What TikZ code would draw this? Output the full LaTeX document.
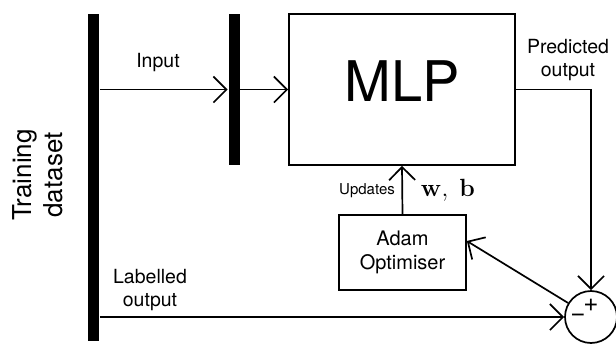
\documentclass[tikz,border=0pt]{standalone}
\usepackage[no-math]{fontspec}
\setmainfont{TeX Gyre Heros}
\usetikzlibrary{arrows.meta,calc}
\begin{document}
\begin{tikzpicture}[x=1pt,y=-1pt,
  line width=1.7pt,
  arr/.style={-{Straight Barb[length=13pt,width=26pt]}},
  bar/.style={fill=black,draw=none,inner sep=0pt,minimum width=11pt},
  blk/.style={draw,inner sep=0pt},
  lbl/.style={font=\fontsize{19.5}{23}\selectfont,align=center,inner sep=0pt},
]
\useasboundingbox (0,0) rectangle (616,343);

% data source and input buffer bars
\node[bar,minimum height=327pt] (data) at (93.5,177.5) {};
\node[bar,minimum height=151pt] (inbar) at (234,89.5) {};

% network and optimiser blocks
\node[blk,minimum width=226pt,minimum height=151pt,
      font=\fontsize{56}{60}\selectfont,text depth=16pt] (mlp) at (402,89.5) {MLP};
\node[blk,minimum width=127pt,minimum height=75pt,
      font=\fontsize{20}{24}\selectfont,align=center] (adam) at (402.5,252.5) {Adam\\Optimiser};

% comparison junction
\node[draw,circle,minimum size=52pt,inner sep=0pt] (sum) at (591,317) {};
\node[font=\fontsize{26}{26}\selectfont,inner sep=0pt] (plus) at (591,305) {+};
\node[font=\fontsize{26}{26}\selectfont,inner sep=0pt] (minus) at (578,318) {−};

% signal flow
\draw[arr] (data.east |- mlp.west) -- (inbar.west |- mlp.west);
\draw[arr] (inbar.east |- mlp.west) -- (mlp.west);
\draw[arr] (mlp.east) -| (sum.north);
\draw[arr] (data.east |- sum.west) -- (sum.west);
\draw[arr] (adam.north) -- (mlp.south);
\draw[arr] (sum) -- ($(adam.east)+(0,-11.5)$);

% labels
\node[lbl] (tin) at (158,63) {Input};
\node[lbl] (tpred) at (568,60) {Predicted\\output};
\node[lbl] (tlab) at (150,290) {Labelled\\output};
\node[lbl,font=\fontsize{15}{18}\selectfont] (tupd) at (367,191) {Updates};
\node[inner sep=0pt,font=\fontsize{25}{28}\selectfont] (twb) at (448,190) {$\mathbf{w},\ \mathbf{b}$};
\node[lbl,font=\fontsize{26}{31}\selectfont,rotate=90] (tdata) at (38,175) {Training\\dataset};
\end{tikzpicture}
\end{document}
